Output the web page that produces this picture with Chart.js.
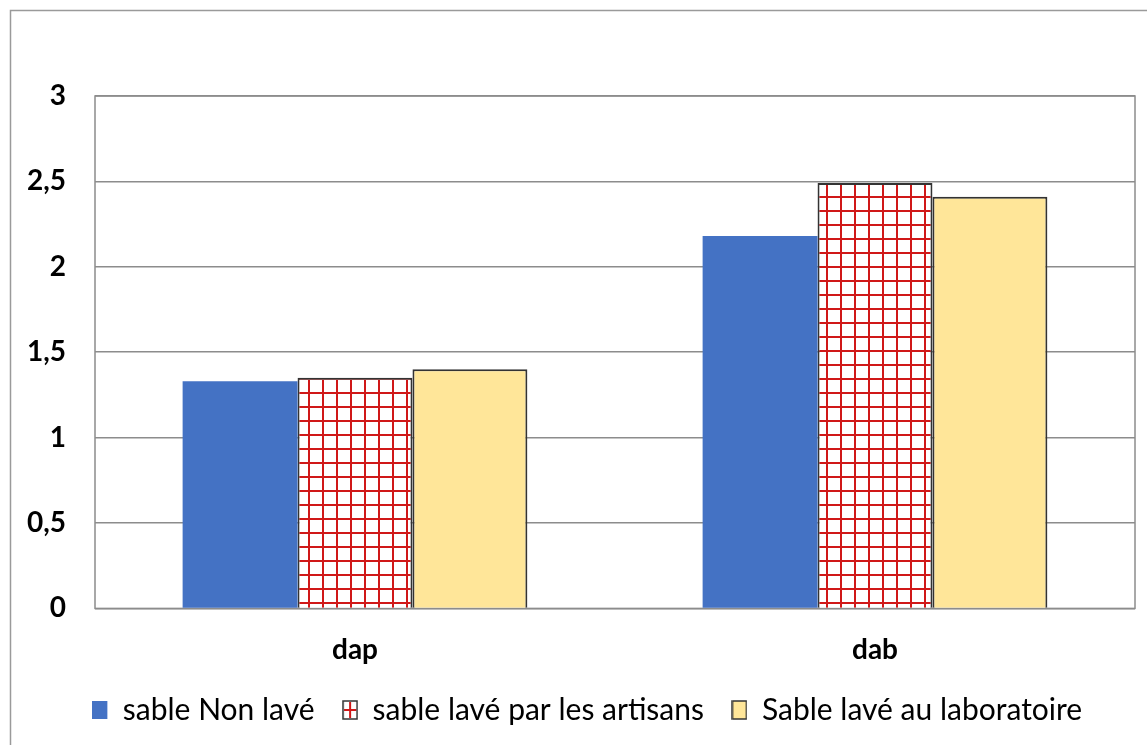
<!DOCTYPE html>
<html>
<head>
<meta charset="utf-8">
<script src="https://cdn.jsdelivr.net/npm/chart.js@4.4.1/dist/chart.umd.min.js"></script>
<style>
  html, body { margin: 0; padding: 0; background: #fff; }
  #wrap { width: 1147px; height: 745px; position: relative; }
</style>
</head>
<body>
<div id="wrap"><canvas id="chart" width="1147" height="745"></canvas></div>
<script>
// ==================== Data ====================
const categories = ['dap', 'dab'];
const seriesNames = ['sable Non lavé', 'sable lavé par les artisans', 'Sable lavé au laboratoire'];
const nonLave = [1.33, 2.18];
const laveArtisans = [1.35, 2.49];
const laveLabo = [1.40, 2.41];
const yTicks = ['0', '0,5', '1', '1,5', '2', '2,5', '3'];

const BLUE = '#4472C4';
const YELLOW = '#FFE699';
const EDGE = '#333333';
const RED = '#D01818';

function makeGridPattern(cell) {
    const c = document.createElement('canvas');
    c.width = cell; c.height = cell;
    const g = c.getContext('2d');
    g.fillStyle = '#ffffff';
    g.fillRect(0, 0, cell, cell);
    g.fillStyle = RED;
    g.fillRect(0, 0, cell, 2);
    g.fillRect(0, 0, 2, cell);
    return document.getElementById('chart').getContext('2d').createPattern(c, 'repeat');
}

// small legend swatches drawn as images
function swatch(kind) {
    const c = document.createElement('canvas');
    c.width = 16; c.height = 20;
    const g = c.getContext('2d');
    if (kind === 'blue') {
        g.fillStyle = BLUE;
        g.fillRect(0, 1, 15, 18);
        return c;
    }
    g.fillStyle = kind === 'yellow' ? YELLOW : '#fff';
    g.fillRect(1, 1, 14, 18);
    if (kind === 'cross') {
        g.fillStyle = RED;
        g.fillRect(7, 2, 2, 16);
        g.fillRect(2, 9, 12, 2);
    }
    g.strokeStyle = EDGE;
    g.lineWidth = 1.5;
    g.strokeRect(1, 1, 14, 18);
    return c;
}

const hatch = makeGridPattern(14);
const swatches = [swatch('blue'), swatch('cross'), swatch('yellow')];

// outer frame + plot border
const framePlugin = {
    id: 'frame',
    beforeDraw(chart) {
        const ctx = chart.ctx;
        ctx.save();
        ctx.fillStyle = '#fff';
        ctx.fillRect(0, 0, chart.width, chart.height);
        ctx.strokeStyle = '#9a9a9a';
        ctx.lineWidth = 1.5;
        ctx.beginPath();
        ctx.moveTo(10.5, chart.height + 5);
        ctx.lineTo(10.5, 10.5);
        ctx.lineTo(chart.width + 5, 10.5);
        ctx.stroke();
        ctx.restore();
    },
    afterLayout(chart) {
        // legend sits a bit right of canvas centre in the original
        if (chart.legend) { chart.legend.left += 15; chart.legend.right += 15; }
    },
    beforeDatasetsDraw(chart) {
        const a = chart.chartArea;
        const ctx = chart.ctx;
        ctx.save();
        ctx.strokeStyle = '#8c8c8c';
        ctx.lineWidth = 1.5;
        ctx.strokeRect(a.left, a.top, a.right - a.left, a.bottom - a.top);
        ctx.restore();
    }
};

new Chart(document.getElementById('chart'), {
    type: 'bar',
    data: {
        labels: categories,
        datasets: [
            { label: seriesNames[0], data: nonLave, backgroundColor: BLUE, borderWidth: 0 },
            { label: seriesNames[1], data: laveArtisans, backgroundColor: hatch, borderColor: EDGE, borderWidth: 2 },
            { label: seriesNames[2], data: laveLabo, backgroundColor: YELLOW, borderColor: EDGE, borderWidth: 2 }
        ]
    },
    options: {
        responsive: false,
        animation: false,
        layout: { padding: { top: 96, right: 12, left: 10, bottom: 10 } },
        datasets: { bar: { categoryPercentage: 0.663, barPercentage: 1.0 } },
        plugins: {
            legend: {
                position: 'bottom',
                labels: {
                    color: '#000',
                    font: { family: 'Lato', size: 30 },
                    usePointStyle: true,
                    pointStyleWidth: 15,
                    padding: 28,
                    generateLabels(chart) {
                        return chart.data.datasets.map((ds, i) => ({
                            text: ds.label,
                            pointStyle: swatches[i],
                            fillStyle: ds.backgroundColor,
                            strokeStyle: EDGE,
                            lineWidth: 0,
                            datasetIndex: i,
                            hidden: false
                        }));
                    }
                }
            },
            tooltip: { enabled: false }
        },
        scales: {
            x: {
                afterFit(axis) { axis.height = axis.height - 17; },
                grid: { display: false },
                border: { display: false },
                ticks: { color: '#000', font: { family: 'Lato', size: 28, weight: 'bold' }, padding: 17 }
            },
            y: {
                min: 0,
                max: 3,
                afterFit(axis) { axis.width = 85; },
                grid: { color: '#8c8c8c', lineWidth: 1.5, drawTicks: false },
                border: { display: false },
                ticks: {
                    stepSize: 0.5,
                    color: '#000',
                    padding: 29,
                    font: { family: 'Lato', size: 28, weight: 'bold' },
                    callback: (v, i) => yTicks[i]
                }
            }
        }
    },
    plugins: [framePlugin]
});
</script>
</body>
</html>
